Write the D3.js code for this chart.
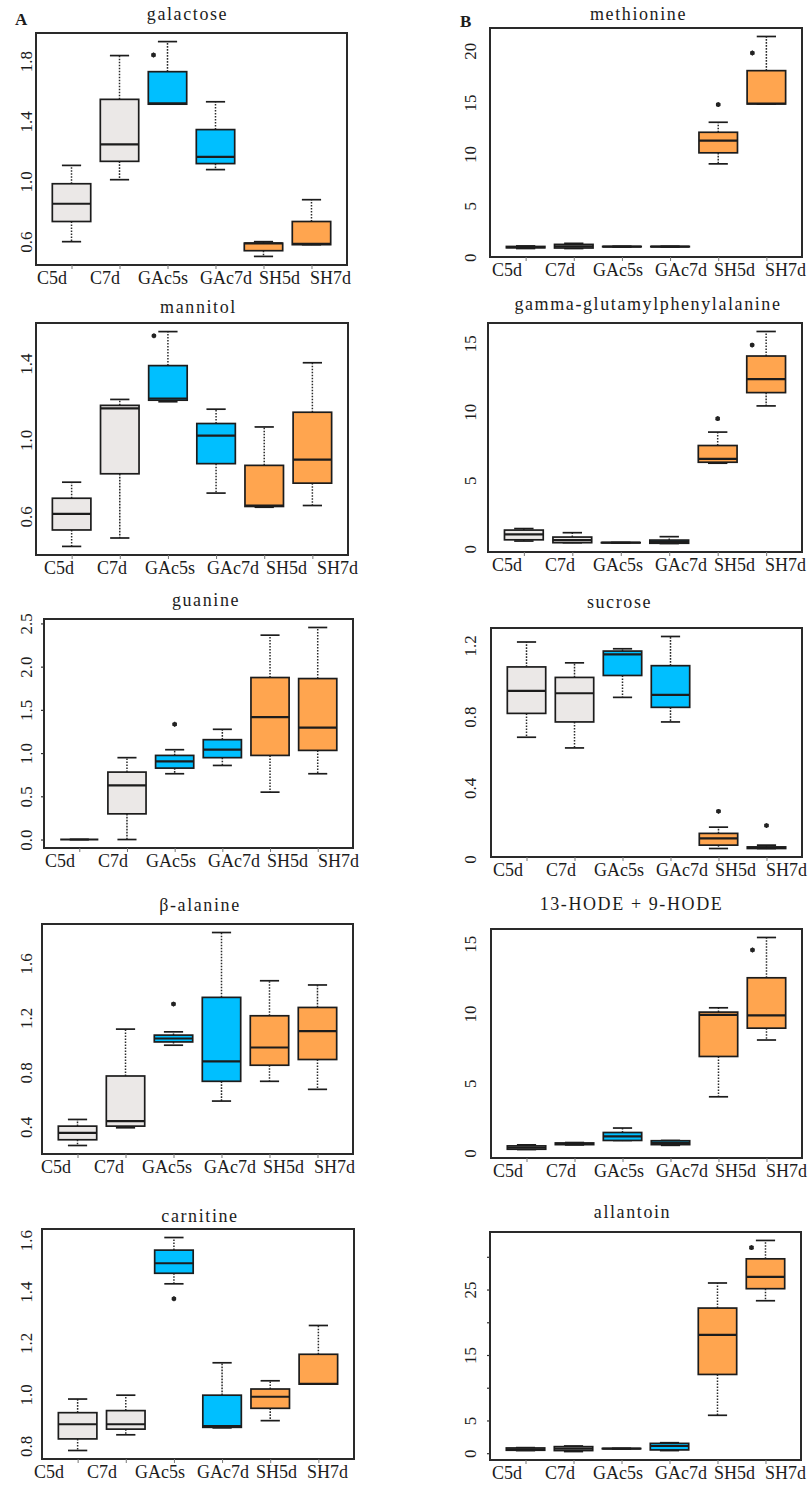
<!DOCTYPE html>
<html><head><meta charset="utf-8">
<script src="https://cdn.jsdelivr.net/npm/d3@7"></script>
<style>body{margin:0;background:#fff}svg{display:block}</style>
</head><body>
<svg id="chart" width="811" height="1485"></svg>
<script>
const groups = ["C5d","C7d","GAc5s","GAc7d","SH5d","SH7d"];
// five-number summaries per group: [lower whisker, Q1, median, Q3, upper whisker]
const galactose   = [[0.600,0.734,0.852,0.985,1.107],[1.012,1.134,1.247,1.546,1.837],[1.514,1.514,1.519,1.730,1.930],[1.079,1.119,1.163,1.345,1.530],[0.502,0.540,0.588,0.590,0.600],[0.580,0.580,0.585,0.734,0.879]];
const methionine  = [[0.85,0.92,0.98,1.05,1.10],[0.85,0.90,1.05,1.25,1.35],[1.00,1.02,1.03,1.05,1.07],[1.00,1.02,1.03,1.05,1.07],[9.05,10.12,11.31,12.11,13.08],[14.85,14.85,14.90,18.08,21.39]];
const mannitol    = [[0.443,0.529,0.613,0.695,0.779],[0.487,0.823,1.165,1.181,1.212],[1.200,1.208,1.217,1.389,1.567],[0.722,0.876,1.023,1.086,1.161],[0.648,0.652,0.657,0.867,1.068],[0.657,0.774,0.897,1.145,1.404]];
const gammaGlu    = [[0.56,0.65,1.05,1.36,1.47],[0.44,0.44,0.63,0.85,1.17],[0.42,0.43,0.44,0.45,0.46],[0.38,0.40,0.50,0.63,0.88],[6.24,6.31,6.55,7.53,8.51],[10.42,11.39,12.37,14.06,15.85]];
const guanine     = [[0,0,0,0,0],[0.000,0.297,0.626,0.780,0.947],[0.761,0.826,0.904,0.973,1.039],[0.857,0.947,1.039,1.155,1.275],[0.548,0.973,1.417,1.874,2.364],[0.761,1.031,1.294,1.862,2.453]];
const sucrose     = [[0.684,0.818,0.944,1.079,1.219],[0.624,0.770,0.931,1.020,1.102],[0.908,1.031,1.149,1.168,1.181],[0.770,0.852,0.922,1.086,1.250],[0.059,0.078,0.116,0.144,0.179],[0.059,0.059,0.063,0.068,0.078]];
const betaAlanine = [[0.264,0.306,0.357,0.406,0.455],[0.394,0.406,0.443,0.774,1.118],[1.000,1.024,1.049,1.074,1.098],[0.590,0.735,0.882,1.351,1.827],[0.735,0.853,0.983,1.216,1.473],[0.676,0.895,1.103,1.277,1.442]];
const hode        = [[0.25,0.27,0.39,0.51,0.585],[0.58,0.60,0.65,0.72,0.75],[0.90,0.90,1.19,1.47,1.79],[0.55,0.60,0.72,0.88,0.90],[4.03,6.92,9.90,10.10,10.41],[8.10,8.95,9.86,12.56,15.45]];
const carnitine   = [[0.782,0.827,0.884,0.929,0.982],[0.843,0.865,0.884,0.937,0.997],[1.430,1.471,1.510,1.561,1.610],[0.870,0.872,0.877,0.997,1.123],[0.898,0.946,0.991,1.021,1.053],[1.040,1.040,1.041,1.156,1.268]];
const allantoin   = [[0.40,0.45,0.60,0.80,0.85],[0.25,0.40,0.70,1.00,1.10],[0.65,0.68,0.70,0.72,0.75],[0.40,0.50,1.10,1.50,1.60],[5.79,12.03,18.07,22.17,26.00],[23.29,25.13,26.93,29.69,32.50]];

// significance marks: [group index, value]
const galactoseStars = [[2,1.841]];
const methionineStars = [[4,14.79],[5,19.79]];
const mannitolStars = [[2,1.545]];
const gammaGluStars = [[4,9.49],[5,14.86]];
const guanineStars = [[2,1.333]];
const sucroseStars = [[4,0.268],[5,0.188]];
const betaAlanineStars = [[2,1.302]];
const hodeStars = [[5,14.55]];
const carnitineStars = [[2,1.372]];
const allantoinStars = [[5,31.4]];

// y ticks and their labels
const galactoseTicks = [0.6,1.0,1.4,1.8],            galactoseTickLabels = ["0.6","1.0","1.4","1.8"];
const methionineTicks = [0,5,10,15,20],              methionineTickLabels = ["0","5","10","15","20"];
const mannitolTicks = [0.6,1.0,1.4],                 mannitolTickLabels = ["0.6","1.0","1.4"];
const gammaGluTicks = [0,5,10,15],                   gammaGluTickLabels = ["0","5","10","15"];
const guanineTicks = [0,0.5,1.0,1.5,2.0,2.5],        guanineTickLabels = ["0.0","0.5","1.0","1.5","2.0","2.5"];
const sucroseTicks = [0,0.4,0.8,1.2],                sucroseTickLabels = ["0","0.4","0.8","1.2"];
const betaAlanineTicks = [0.4,0.8,1.2,1.6],          betaAlanineTickLabels = ["0.4","0.8","1.2","1.6"];
const hodeTicks = [0,5,10,15],                       hodeTickLabels = ["0","5","10","15"];
const carnitineTicks = [0.8,1.0,1.2,1.4,1.6],        carnitineTickLabels = ["0.8","1.0","1.2","1.4","1.6"];
const allantoinTicks = [0,5,10,15,20,25,30],         allantoinTickLabels = ["0","5","","15","","25",""];

// ---- layout / style (not data) ----
const groupColors = ["#ebe8e7","#ebe8e7","#00bfff","#00bfff","#ffa54f","#ffa54f"];
const xLabelStart = [2,55,103,165,224,275];
const panels = [
  {title:"galactose", data:galactose, stars:galactoseStars, ticks:galactoseTicks, tl:galactoseTickLabels, frame:[36,33,347,265], tx:187.5, ty:20, shift:-1, col:0, letter:"A", tickMarks:false},
  {title:"methionine", data:methionine, stars:methionineStars, ticks:methionineTicks, tl:methionineTickLabels, frame:[490,28,802,257], tx:638.5, ty:20, shift:0, col:1, letter:"B", tickMarks:false},
  {title:"mannitol", data:mannitol, stars:mannitolStars, ticks:mannitolTicks, tl:mannitolTickLabels, frame:[36,323,348,555], tx:198.5, ty:313, shift:6, col:0, tickMarks:false},
  {title:"gamma-glutamylphenylalanine", data:gammaGlu, stars:gammaGluStars, ticks:gammaGluTicks, tl:gammaGluTickLabels, frame:[488,323,802,552], tx:648, ty:309.5, shift:2, col:1, tickMarks:false},
  {title:"guanine", data:guanine, stars:guanineStars, ticks:guanineTicks, tl:guanineTickLabels, frame:[44,619,353,848], tx:206, ty:605.5, shift:-1, col:0, tickMarks:true},
  {title:"sucrose", data:sucrose, stars:sucroseStars, ticks:sucroseTicks, tl:sucroseTickLabels, frame:[491,628,802,857], tx:619.5, ty:608, shift:0, col:1, tickMarks:false},
  {title:"\u03b2-alanine", data:betaAlanine, stars:betaAlanineStars, ticks:betaAlanineTicks, tl:betaAlanineTickLabels, frame:[42,924,353,1154], tx:200, ty:911, shift:-3, col:0, tickMarks:false},
  {title:"13-HODE + 9-HODE", data:hode, stars:hodeStars, ticks:hodeTicks, tl:hodeTickLabels, frame:[491,929,802,1158], tx:631.5, ty:910, shift:0, col:1, tickMarks:false},
  {title:"carnitine", data:carnitine, stars:carnitineStars, ticks:carnitineTicks, tl:carnitineTickLabels, frame:[42,1229,354,1459], tx:200, ty:1221.5, shift:-10, col:0, tickMarks:false},
  {title:"allantoin", data:allantoin, stars:allantoinStars, ticks:allantoinTicks, tl:allantoinTickLabels, frame:[490,1232,801,1460], tx:632.5, ty:1218, shift:0, col:1, tickMarks:true}
];
const yLabelBaseline = [32, 476];
const serif = "'Liberation Serif','Times New Roman',serif";
const ink = "#1c1c1c";

const svg = d3.select("#chart");
svg.append("rect").attr("width",811).attr("height",1485).attr("fill","#fff");

panels.forEach(p => {
  const [L,T,R,B] = p.frame;
  const g = svg.append("g");
  const x = d3.scaleLinear().domain([0.26, 6.74]).range([L, R]);
  const lo = d3.min(p.data, d => d[0]), hi = d3.max(p.data, d => d[4]);
  const pad = (hi - lo) * 0.04;
  const y = d3.scaleLinear().domain([lo - pad, hi + pad]).range([B, T]);
  const bw = x(1.4) - x(0.6);
  const sw = bw * 0.5;

  // boxes
  const bx = g.selectAll("g.box").data(p.data).join("g").attr("class","box");
  bx.each(function(d, i) {
    const s = d3.select(this);
    const cx = x(i + 1);
    // whiskers
    s.append("line").attr("x1",cx).attr("x2",cx).attr("y1",y(d[3])).attr("y2",y(d[4]))
      .attr("stroke","#2a2a2a").attr("stroke-width",1.5).attr("stroke-dasharray","1.6,1.4");
    s.append("line").attr("x1",cx).attr("x2",cx).attr("y1",y(d[1])).attr("y2",y(d[0]))
      .attr("stroke","#2a2a2a").attr("stroke-width",1.5).attr("stroke-dasharray","1.6,1.4");
    // staples
    [d[0], d[4]].forEach(v => {
      s.append("line").attr("x1",cx - sw/2).attr("x2",cx + sw/2).attr("y1",y(v)).attr("y2",y(v))
        .attr("stroke",ink).attr("stroke-width",1.7);
    });
    // box
    s.append("rect").attr("x",cx - bw/2).attr("width",bw)
      .attr("y",y(d[3])).attr("height",Math.max(0, y(d[1]) - y(d[3])))
      .attr("fill",groupColors[i]).attr("stroke",ink).attr("stroke-width",1.7);
    // median
    s.append("line").attr("x1",cx - bw/2).attr("x2",cx + bw/2).attr("y1",y(d[2])).attr("y2",y(d[2]))
      .attr("stroke",ink).attr("stroke-width",2.2);
  });

  // significance marks
  p.stars.forEach(([gi, v]) => {
    const d = p.data[gi];
    const inside = v >= d[0] && v <= d[4];
    const sx = x(gi + 1) + (inside ? -14 : 0);
    g.append("path").attr("d", d3.symbol().type(d3.symbolAsterisk).size(16)())
      .attr("transform",`translate(${sx},${y(v)})`).attr("stroke","#222").attr("stroke-width",1.3).attr("fill","none");
    g.append("circle").attr("cx",sx).attr("cy",y(v)).attr("r",2.3).attr("fill","#222");
  });

  // frame
  g.append("rect").attr("x",L).attr("y",T).attr("width",R-L).attr("height",B-T)
    .attr("fill","none").attr("stroke","#2a2a2a").attr("stroke-width",2);

  // x axis tick marks
  const xa = g.append("g").attr("transform",`translate(0,${B})`)
    .call(d3.axisBottom(x).tickValues([1,2,3,4,5,6]).tickSize(4).tickFormat(""));
  xa.select(".domain").remove();
  xa.selectAll(".tick line").attr("stroke","#777").attr("stroke-width",1);

  // y axis
  const ya = g.append("g").attr("transform",`translate(${L},0)`)
    .call(d3.axisLeft(y).tickValues(p.ticks).tickSize(p.tickMarks ? 3 : 0)
      .tickFormat((d, i) => p.tl[i]));
  ya.select(".domain").remove();
  ya.selectAll(".tick line").attr("stroke","#333").attr("stroke-width",1.2);
  ya.selectAll(".tick text")
    .attr("x",null).attr("dy",null)
    .attr("transform",`translate(${yLabelBaseline[p.col] - L},0) rotate(-90)`)
    .attr("text-anchor","middle")
    .attr("font-family",serif).attr("font-size",17).attr("fill",ink);

  // x category labels
  g.selectAll("text.xl").data(groups).join("text").attr("class","xl")
    .attr("x",(d, i) => L + xLabelStart[i] + p.shift).attr("y",B + 19)
    .attr("font-family",serif).attr("font-size",18).attr("fill",ink)
    .text(d => d);

  // title
  g.append("text").attr("x",p.tx).attr("y",p.ty).attr("text-anchor","middle")
    .attr("font-family",serif).attr("font-size",18).attr("letter-spacing","1.6px").attr("fill",ink)
    .text(p.title);

  if (p.letter) {
    g.append("text").attr("x", p.col === 0 ? 15 : 460).attr("y", p.col === 0 ? 25 : 27)
      .attr("font-family",serif).attr("font-size",17).attr("font-weight","bold").attr("fill",ink)
      .text(p.letter);
  }
});
</script>
</body></html>
